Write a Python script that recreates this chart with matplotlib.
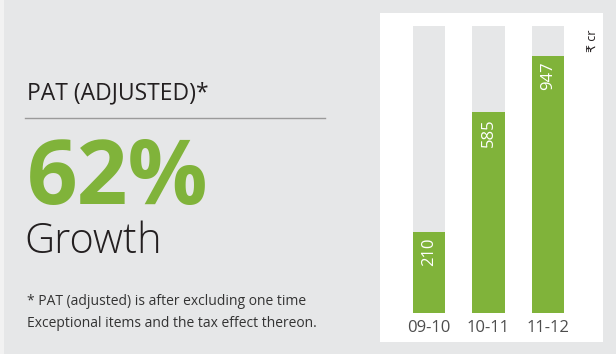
import matplotlib
matplotlib.use('Agg')
import matplotlib.pyplot as plt
from matplotlib.patches import Rectangle
from matplotlib.lines import Line2D

plt.rcParams['font.family'] = ['Open Sans', 'DejaVu Sans']

years = ['09-10', '10-11', '11-12']
pat_values = [210, 585, 947]
value_labels = ['210', '585', '947']

headline = 'PAT (ADJUSTED)*'
growth_pct = '62%'
growth_word = 'Growth'
footnote = ['* PAT (adjusted) is after excluding one time',
            'Exceptional items and the tax effect thereon.']
unit = '₹ cr'

green = '#80b33a'
light_gray = '#e6e7e8'
W, H = 616, 354

fig = plt.figure(figsize=(W / 100, H / 100), dpi=100, facecolor=light_gray)

# thin light strip on the left edge and white panel behind the bars
fig.patches.append(Rectangle((0, 0), 4 / W, 1, transform=fig.transFigure,
                             facecolor='#f2f2f2', edgecolor='none', zorder=-1))
fig.patches.append(Rectangle((380 / W, 12 / H), 223 / W, 329 / H, transform=fig.transFigure,
                             facecolor='white', edgecolor='none', zorder=-1))

# left side text
fig.text(27 / W, 1 - 99 / H, headline, fontsize=16.5, color='#231f20', va='baseline')
fig.add_artist(Line2D([25 / W, 325 / W], [1 - 118 / H] * 2, color='#9a9a9a', lw=1))
fig.text(27 / W, 1 - 204 / H, growth_pct, fontsize=64, fontweight='bold', color=green, va='baseline')
fig.text(24 / W, 1 - 253 / H, growth_word, fontsize=30, fontweight='light', color='#231f20', va='baseline')
fig.text(27 / W, 1 - 305 / H, footnote[0], fontsize=10, color='#333333', va='baseline')
fig.text(27 / W, 1 - 327 / H, footnote[1], fontsize=10, color='#333333', va='baseline')

# bar chart
x = list(range(len(years)))
ax = fig.add_axes([393.3 / W, 41 / H, 190.4 / W, 287 / H])
ax.set_facecolor('none')
ax.set_yscale('log')
ymin, ymax = 105, 1227
ax.set_ylim(ymin, ymax)
ax.set_xlim(-0.6, 2.6)

ax.bar(x, [ymax - ymin] * len(x), bottom=ymin, width=0.54, color=light_gray, zorder=1)
ax.bar(x, [v - ymin for v in pat_values], bottom=ymin, width=0.54, color=green, zorder=2)

for xi, v, lab in zip(x, pat_values, value_labels):
    ax.annotate(lab, (xi, v), xytext=(0, -4), textcoords='offset points',
                rotation=90, ha='center', va='top', color='white', fontsize=12, zorder=3)

ax.set_xticks(x)
ax.set_xticklabels(years, fontsize=12, color='#4d4d4d')
ax.tick_params(axis='x', length=0, pad=5)
ax.tick_params(axis='y', which='both', left=False, labelleft=False)
for s in ax.spines.values():
    s.set_visible(False)

fig.text(593 / W, 1 - 41 / H, unit, fontsize=9, rotation=90, ha='center', va='center', color='#231f20')

fig.savefig('out.png', dpi=100, facecolor=light_gray)
